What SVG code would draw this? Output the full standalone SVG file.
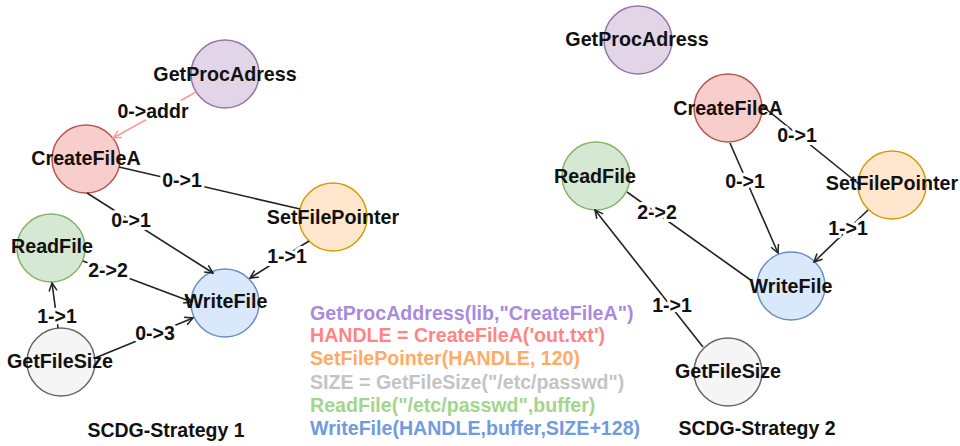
<svg xmlns="http://www.w3.org/2000/svg" width="960" height="446" viewBox="0 0 960 446">
  <style>
    text { font-family: "Liberation Sans", Arial, sans-serif; font-weight: bold; }
    .lbl { font-size: 19.7px; fill: #111; text-anchor: middle; }
    .elbl { font-size: 19.5px; fill: #111; text-anchor: middle; stroke: #fff; stroke-width: 6; stroke-linejoin: round; paint-order: stroke; }
    .title { font-size: 19.5px; fill: #111; text-anchor: middle; }
    .code { font-size: 19.6px; }
    .edge { fill: none; stroke: #222; stroke-width: 1.6; }
    .edge-pink { fill: none; stroke: #ff9a9a; stroke-width: 1.5; }
    .purple { fill: #e1d5e7; stroke: #9673a6; stroke-width: 1.5; }
    .red { fill: #f8cecc; stroke: #b85450; stroke-width: 1.5; }
    .orange { fill: #ffe6cc; stroke: #d79b00; stroke-width: 1.5; }
    .green { fill: #d5e8d4; stroke: #82b366; stroke-width: 1.5; }
    .blue { fill: #dae8fc; stroke: #6c8ebf; stroke-width: 1.5; }
    .gray { fill: #f5f5f5; stroke: #666666; stroke-width: 1.5; }
  </style>
  <defs>
    <marker id="arr" viewBox="0 0 10 10" refX="9" refY="5" markerWidth="10" markerHeight="10" orient="auto" markerUnits="userSpaceOnUse">
      <path d="M1,1 L9,5 L1,9" fill="none" stroke="#222" stroke-width="1.5"/>
    </marker>
    <marker id="arr-pink" viewBox="0 0 10 10" refX="9" refY="5" markerWidth="10" markerHeight="10" orient="auto" markerUnits="userSpaceOnUse">
      <path d="M1,1 L9,5 L1,9" fill="none" stroke="#ff9a9a" stroke-width="1.5"/>
    </marker>
  </defs>
  <rect width="960" height="446" fill="#fff"/>

  <!-- Strategy 1: node circles -->
  <g id="s1-getprocadress"><circle class="purple" cx="225" cy="74" r="34"/></g>
  <g id="s1-createfilea"><circle class="red" cx="86" cy="159" r="34"/></g>
  <g id="s1-setfilepointer"><circle class="orange" cx="333" cy="217" r="34"/></g>
  <g id="s1-readfile"><circle class="green" cx="51" cy="248" r="34"/></g>
  <g id="s1-writefile"><circle class="blue" cx="225" cy="303" r="34"/></g>
  <g id="s1-getfilesize"><circle class="gray" cx="61" cy="362" r="34"/></g>

  <!-- Strategy 2: node circles -->
  <g id="s2-getprocadress"><circle class="purple" cx="638" cy="40" r="34"/></g>
  <g id="s2-createfilea"><circle class="red" cx="728" cy="108" r="34"/></g>
  <g id="s2-readfile"><circle class="green" cx="596" cy="176" r="34"/></g>
  <g id="s2-setfilepointer"><circle class="orange" cx="892" cy="185" r="34"/></g>
  <g id="s2-writefile"><circle class="blue" cx="791" cy="286" r="34"/></g>
  <g id="s2-getfilesize"><circle class="gray" cx="728" cy="372" r="34"/></g>

  <!-- connectors -->
  <g id="connectors">
    <!-- strategy 1 -->
    <line class="edge-pink" x1="196" y1="92" x2="113" y2="138" marker-end="url(#arr-pink)"/>
    <line class="edge" x1="119" y1="167" x2="300" y2="209"/>
    <line class="edge" x1="87" y1="193" x2="213" y2="273" marker-end="url(#arr)"/>
    <line class="edge" x1="309" y1="241" x2="250" y2="278" marker-end="url(#arr)"/>
    <line class="edge" x1="83" y1="261" x2="192" y2="302" marker-end="url(#arr)"/>
    <line class="edge" x1="58" y1="328" x2="52" y2="283" marker-end="url(#arr)"/>
    <line class="edge" x1="95" y1="358" x2="193" y2="318" marker-end="url(#arr)"/>
    <!-- strategy 2 -->
    <line class="edge" x1="761" y1="105" x2="860" y2="185"/>
    <line class="edge" x1="730" y1="143" x2="778" y2="253" marker-end="url(#arr)"/>
    <line class="edge" x1="868" y1="210" x2="814" y2="262" marker-end="url(#arr)"/>
    <line class="edge" x1="627" y1="192" x2="752" y2="281"/>
    <line class="edge" x1="703" y1="347" x2="595" y2="210" marker-end="url(#arr)"/>

    <!-- edge labels -->
    <text class="elbl" x="153" y="118">0-&gt;addr</text>
    <text class="elbl" x="182" y="187">0-&gt;1</text>
    <text class="elbl" x="131" y="227">0-&gt;1</text>
    <text class="elbl" x="287" y="263">1-&gt;1</text>
    <text class="elbl" x="108" y="277">2-&gt;2</text>
    <text class="elbl" x="57" y="323">1-&gt;1</text>
    <text class="elbl" x="155" y="340">0-&gt;3</text>

    <text class="elbl" x="797" y="142">0-&gt;1</text>
    <text class="elbl" x="745" y="188">0-&gt;1</text>
    <text class="elbl" x="848" y="235">1-&gt;1</text>
    <text class="elbl" x="657" y="219">2-&gt;2</text>
    <text class="elbl" x="672" y="312">1-&gt;1</text>
  </g>

  <!-- node labels -->
  <g id="node-labels">
    <text class="lbl" x="225" y="81">GetProcAdress</text>
    <text class="lbl" x="86" y="165">CreateFileA</text>
    <text class="lbl" x="333" y="224">SetFilePointer</text>
    <text class="lbl" x="52" y="253">ReadFile</text>
    <text class="lbl" x="226" y="308">WriteFile</text>
    <text class="lbl" x="60" y="368">GetFileSize</text>

    <text class="lbl" x="637" y="46">GetProcAdress</text>
    <text class="lbl" x="728" y="115">CreateFileA</text>
    <text class="lbl" x="595" y="183">ReadFile</text>
    <text class="lbl" x="892" y="190">SetFilePointer</text>
    <text class="lbl" x="791" y="293">WriteFile</text>
    <text class="lbl" x="728" y="378">GetFileSize</text>
  </g>

  <!-- API call listing -->
  <g id="code">
    <text class="code" x="310" y="320" fill="#a98ade">GetProcAddress(lib,"CreateFileA")</text>
    <text class="code" x="310" y="342" fill="#ff8585">HANDLE = CreateFileA('out.txt')</text>
    <text class="code" x="310" y="365" fill="#ffab66">SetFilePointer(HANDLE, 120)</text>
    <text class="code" x="310" y="389" fill="#c4c4c4">SIZE = GetFileSize("/etc/passwd")</text>
    <text class="code" x="310" y="412" fill="#a3d68c">ReadFile("/etc/passwd",buffer)</text>
    <text class="code" x="310" y="435" fill="#6f9be0">WriteFile(HANDLE,buffer,SIZE+128)</text>
  </g>

  <!-- captions -->
  <text class="title" x="166" y="437">SCDG-Strategy 1</text>
  <text class="title" x="757" y="435">SCDG-Strategy 2</text>
</svg>
